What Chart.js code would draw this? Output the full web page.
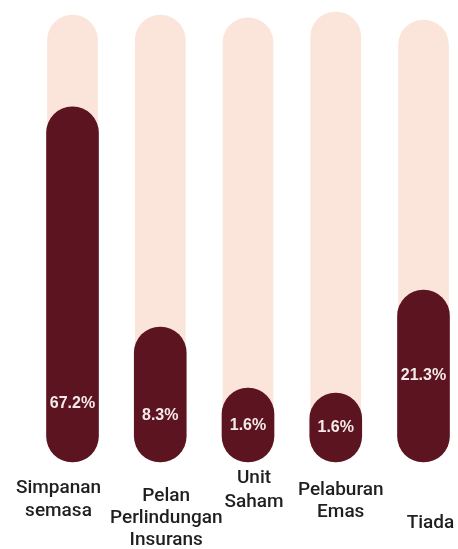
<!DOCTYPE html>
<html>
<head>
<meta charset="utf-8">
<script src="https://cdn.jsdelivr.net/npm/chart.js@4.4.1/dist/chart.umd.min.js"></script>
<style>
  body { margin: 0; background: #fff; }
  #wrap { width: 458px; height: 549px; }
</style>
</head>
<body>
<div id="wrap"><canvas id="myChart" width="458" height="549"></canvas></div>
<script>
// categories and values
const categories = [
    ['Simpanan', 'semasa'],
    ['Pelan', 'Perlindungan', 'Insurans'],
    ['Unit', 'Saham'],
    ['Pelaburan', 'Emas'],
    ['Tiada']
];
const percentLabels = ['67.2%', '8.3%', '1.6%', '1.6%', '21.3%'];
// bar heights as drawn in the picture (share of the track height)
const fillLevel = [78.9, 30.0, 16.4, 15.3, 38.2];
const trackLevel = [99.3, 99.3, 98.7, 100, 98.2];

// hand-placed label nudges (px)
const catDx = [-14, 6, 6, 5, 7];
const catBaseline = [493, 501, 483, 495, 528];
const catLineH = [23, 22, 24, 22, 23];
const pctRaise = [58, 46, 36, 34, 86];

const labelPlugin = {
    id: 'labelPlugin',
    afterDatasetsDraw(chart) {
        const ctx = chart.ctx;
        const xScale = chart.scales.x;
        const meta = chart.getDatasetMeta(0);
        ctx.save();
        ctx.textAlign = 'center';
        // percent inside dark bars
        ctx.font = 'bold 16px "Liberation Sans", Arial, sans-serif';
        ctx.fillStyle = '#f6ebea';
        ctx.textBaseline = 'middle';
        for (let i = 0; i < meta.data.length; i++) {
            let bar = meta.data[i];
            ctx.fillText(percentLabels[i], bar.x, bar.base - pctRaise[i]);
        }
        // category names below
        ctx.font = '500 19px Roboto, "Noto Sans", sans-serif';
        ctx.fillStyle = '#1f1f1f';
        ctx.textBaseline = 'alphabetic';
        for (let i = 0; i < categories.length; i++) {
            let x = xScale.getPixelForValue(i) + catDx[i];
            for (let j = 0; j < categories[i].length; j++) {
                ctx.fillText(categories[i][j], x, catBaseline[i] + j * catLineH[i]);
            }
        }
        ctx.restore();
    }
};

const ctx = document.getElementById('myChart').getContext('2d');
new Chart(ctx, {
    type: 'bar',
    data: {
        labels: categories.map(c => c.join(' ')),
        datasets: [{
            label: 'fill',
            data: fillLevel,
            backgroundColor: '#5c1520',
            barThickness: 52,
            borderRadius: 26,
            borderSkipped: false,
            grouped: false,
            clip: false,
            order: 0
        }, {
            label: 'track',
            data: trackLevel,
            backgroundColor: '#fbe5da',
            barThickness: 50,
            borderRadius: 25,
            borderSkipped: false,
            grouped: false,
            clip: false,
            order: 1
        }]
    },
    options: {
        responsive: false,
        animation: false,
        layout: { padding: { left: 72.5, right: 34.5, top: 12, bottom: 87 } },
        plugins: { legend: { display: false }, tooltip: { enabled: false } },
        scales: {
            x: { display: false, offset: false },
            y: { display: false, min: 0, max: 100 }
        }
    },
    plugins: [labelPlugin]
});
</script>
</body>
</html>
